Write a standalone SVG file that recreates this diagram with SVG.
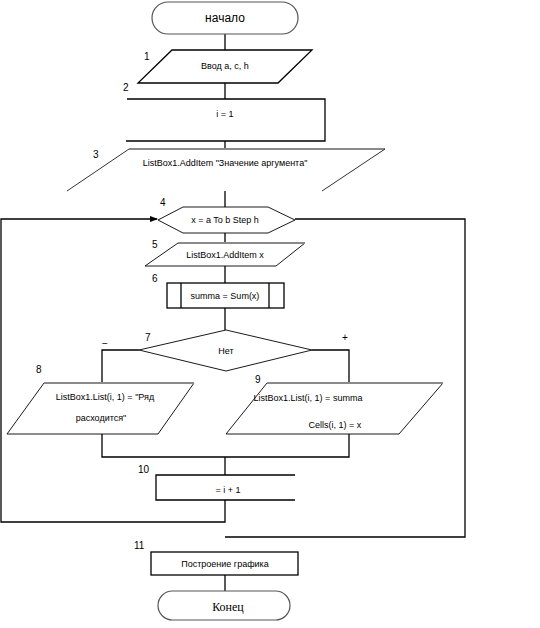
<svg xmlns="http://www.w3.org/2000/svg" width="540" height="628" viewBox="0 0 540 628">
<style>
.s{fill:none;stroke:#000;stroke-width:1.3}
.g{fill:none;stroke:#8a8a8a;stroke-width:2.2}
.t{font-family:"Liberation Sans",Arial,sans-serif;font-size:9px;fill:#000;text-anchor:middle}
.n{font-family:"Liberation Sans",Arial,sans-serif;font-size:10px;fill:#000}
.term{fill:#fff;stroke:#555;stroke-width:1.2}
</style>
<defs>
<marker id="ar" markerWidth="8" markerHeight="8" refX="7" refY="4" orient="auto" markerUnits="userSpaceOnUse">
<path d="M0,1 L8,4 L0,7 Z" fill="#000"/>
</marker>
</defs>
<rect width="540" height="628" fill="#fff"/>
<g id="connectors" class="s">
<line x1="225" y1="34" x2="225" y2="50"/>
<line x1="225" y1="83" x2="225" y2="99"/>
<line x1="225" y1="141" x2="225" y2="149"/>
<line x1="225" y1="191" x2="225" y2="207"/>
<line x1="225" y1="233" x2="225" y2="243"/>
<line x1="225" y1="266" x2="225" y2="283"/>
<line x1="225" y1="308" x2="225" y2="330"/>
<polyline points="139,350 102,350 102,383"/>
<polyline points="312,350 349,350 349,383"/>
<polyline points="102,434 102,457 349,457 349,434"/>
<line x1="225" y1="457" x2="225" y2="475"/>
<polyline points="225,500 225,522 1,522 1,219 157,219" marker-end="url(#ar)"/>
<polyline points="295,219 465,219 465,537 225,537"/>
<line x1="225" y1="575" x2="225" y2="591"/>
</g>
<g id="start">
<rect class="term" x="152" y="2" width="146" height="32" rx="16"/>
<text class="t" x="225" y="22" style="font-size:12px">начало</text>
</g>
<g id="n1">
<polygon class="s" points="172,50 312,50 278,83 138,83"/>
<text class="t" x="225" y="69">Ввод a, c, h</text>
<text class="n" x="144" y="60">1</text>
<text class="n" x="123" y="91">2</text>
</g>
<g id="n2">
<polyline class="s" points="127,99 325,99 325,141 126,141"/>
<text class="t" x="225" y="117">i = 1</text>
</g>
<g id="n3">
<line class="g" x1="129" y1="149" x2="385" y2="149"/>
<line class="s" x1="129" y1="149" x2="67" y2="191" style="stroke-width:0.8"/>
<line class="s" x1="385" y1="149" x2="322" y2="191" style="stroke-width:0.8"/>
<text class="t" x="225" y="166">ListBox1.AddItem "Значение аргумента"</text>
<text class="n" x="93" y="158">3</text>
</g>
<g id="n4">
<polygon class="s" points="158,220 183,207 268,207 295,220 268,233 183,233" style="stroke-width:0.9"/>
<text class="t" x="225" y="223">x = a To b Step h</text>
<text class="n" x="160" y="206">4</text>
</g>
<g id="n5">
<polygon class="s" points="178,243 305,243 276,266 145,266" style="stroke-width:0.9"/>
<line class="g" x1="178" y1="243" x2="305" y2="243"/>
<text class="t" x="225" y="258">ListBox1.AddItem x</text>
<text class="n" x="152" y="248">5</text>
</g>
<g id="n6">
<rect class="s" x="167" y="283" width="117" height="25"/>
<line class="s" x1="181" y1="283" x2="181" y2="308"/>
<line class="s" x1="269" y1="283" x2="269" y2="308"/>
<text class="t" x="225" y="299">summa = Sum(x)</text>
<text class="n" x="152" y="282">6</text>
</g>
<g id="n7">
<polygon class="s" points="226,330 312,350 226,371 139,350" style="stroke-width:0.9"/>
<text class="t" x="226" y="354">Нет</text>
<text class="n" x="145" y="341">7</text>
<text class="n" x="102" y="347">−</text>
<text class="n" x="342" y="341">+</text>
</g>
<g id="n8">
<polygon class="s" points="44,383 194,383 158,434 7,434" style="stroke-width:0.9"/>
<line class="g" x1="44" y1="383" x2="194" y2="383"/>
<text class="t" x="105" y="400">ListBox1.List(i, 1) = "Ряд</text>
<text class="t" x="101" y="421">расходится"</text>
<text class="n" x="36" y="373">8</text>
</g>
<g id="n9">
<polygon class="s" points="267,383 443,383 399,434 226,434" style="stroke-width:0.9"/>
<line class="g" x1="267" y1="383" x2="443" y2="383"/>
<text class="t" x="308" y="401">ListBox1.List(i, 1) = summa</text>
<text class="t" x="335" y="428">Cells(i, 1) = x</text>
<text class="n" x="255" y="383">9</text>
</g>
<g id="n10">
<polyline class="s" points="295,475 156,475 156,500 295,500"/>
<text class="t" x="228" y="493">= i + 1</text>
<text class="n" x="138" y="473">10</text>
</g>
<g id="n11">
<rect class="s" x="151" y="552" width="147" height="23"/>
<text class="t" x="225" y="567">Построение графика</text>
<text class="n" x="134" y="549">11</text>
</g>
<g id="end">
<rect class="term" x="158" y="591" width="132" height="29" rx="14.5"/>
<text x="228" y="611" style="font-family:'Liberation Serif','Times New Roman',serif;font-size:12px;text-anchor:middle">Конец</text>
</g>
</svg>
